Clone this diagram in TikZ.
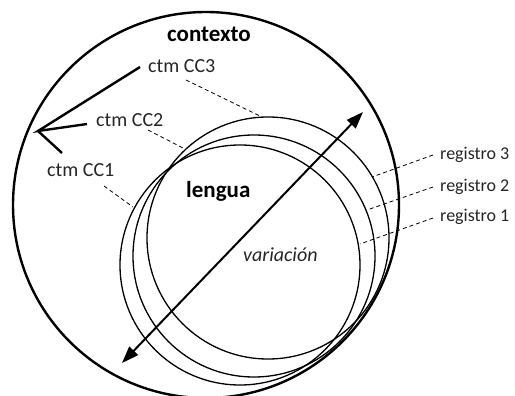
\documentclass[tikz,border=0pt]{standalone}
\usepackage{fontspec}
\setmainfont{Carlito}
\usetikzlibrary{arrows.meta}
\begin{document}
\begin{tikzpicture}[x=1pt,y=-1pt,
  lbl/.style={inner sep=0pt,anchor=base west,text=black!85,font=\fontsize{20}{24}\selectfont},
  reg/.style={lbl,font=\fontsize{18}{22}\selectfont},
  title/.style={inner sep=0pt,anchor=base,font=\fontsize{23}{27}\selectfont\bfseries},
  ring/.style={draw,line width=1.3pt},
  leader/.style={draw,line width=0.8pt,dash pattern=on 4pt off 3pt},
  stem/.style={draw,line width=2.4pt}]
  \useasboundingbox (0,0) rectangle (515,396);
  % context and the three language registers
  \draw[line width=2.4pt] (206,205) circle (193);
  \draw[ring] (268,238) circle (121);
  \draw[ring] (254,256) circle (121);
  \draw[ring] (240,265) circle (120);
  % labels
  \node[title] (ctx) at (209,42) {contexto};
  \node[title,anchor=base west] (len) at (186,197) {lengua};
  \node[lbl,font=\fontsize{20}{24}\selectfont\itshape] (var) at (243,261) {variación};
  \node[lbl] (cc3) at (148,73) {ctm CC3};
  \node[lbl] (cc2) at (96,127) {ctm CC2};
  \node[lbl] (cc1) at (47,177) {ctm CC1};
  \node[reg] (r3) at (440,160) {registro 3};
  \node[reg] (r2) at (440,191) {registro 2};
  \node[reg] (r1) at (440,222) {registro 1};
  % fan of ctm strokes
  \coordinate (hub) at (38,131);
  \coordinate (s3) at (140,67);
  \coordinate (s2) at (87,124);
  \coordinate (s1) at (62,153);
  \draw[stem,line join=miter] (s3) -- (hub) -- (s2);
  \draw[stem] (hub) -- (s1);
  % dashed leaders
  \coordinate (e3) at (262,117);
  \coordinate (e2) at (183,148);
  \coordinate (e1) at (133,207);
  \draw[leader] (186,80) -- (e3);
  \draw[leader] (148,130) -- (e2);
  \draw[leader] (104,186) -- (e1);
  \coordinate (f3) at (372,177);
  \coordinate (f2) at (367,210);
  \coordinate (f1) at (360,244);
  \draw[leader] (433,155) -- (f3);
  \draw[leader] (433,187) -- (f2);
  \draw[leader] (433,218) -- (f1);
  % variation axis
  \coordinate (lo) at (122,363);
  \coordinate (hi) at (363,112);
  \draw[line width=2pt,{Triangle[length=17pt,width=12pt]}-{Triangle[length=17pt,width=12pt]}] (lo) -- (hi);
\end{tikzpicture}
\end{document}
